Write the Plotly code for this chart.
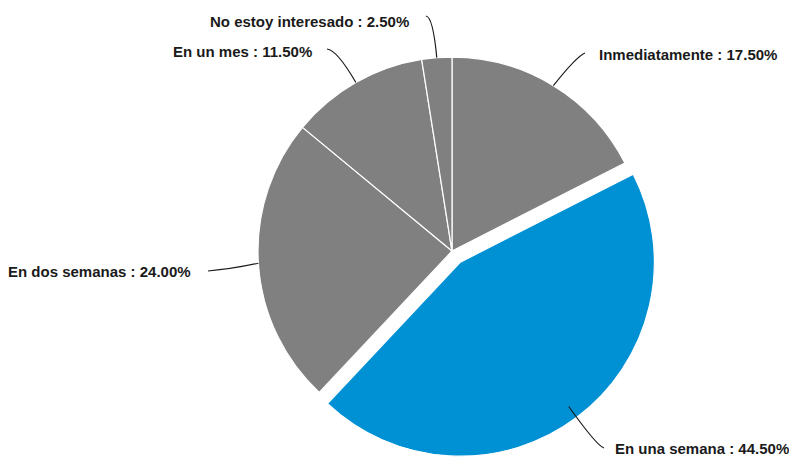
import math
import plotly.graph_objects as go

# Response shares (percent), listed clockwise from 12 o'clock
categories = ["Inmediatamente", "En una semana", "En dos semanas", "En un mes", "No estoy interesado"]
percentages = [17.5, 44.5, 24.0, 11.5, 2.5]
slice_colors = ["#808080", "#0090d4", "#808080", "#808080", "#808080"]
pulls = [0, 0.072, 0, 0, 0]

W, H = 789, 459

# Pie placement in pixels (margins are zero, so paper coords == figure fraction)
CX = 452
R_PIX = 194
max_pull = max(pulls)
half = R_PIX * (1 + max_pull)
CY = H - half
dom_y = [0, 2 * half / H]
dom_x = [(CX - half - 8) / W, (CX + half + 8) / W]

# Label layout per slice: radial start factor, bend point, end point, text anchor
label_layout = [
    dict(start=1.0, ctrl=(577, 56), end=(585, 53), text=(597, 55), side="left"),
    dict(start=0.93, ctrl=(597, 446), end=(604, 448), text=(613, 448), side="left"),
    dict(start=1.0, ctrl=(232, 269), end=(208, 271), text=(193, 271), side="right"),
    dict(start=1.0, ctrl=(337, 50), end=(327, 49), text=(314, 52), side="right"),
    dict(start=1.0, ctrl=(433, 17), end=(426, 16), text=(411, 22), side="right"),
]


def px(x):
    return x / W


def py(y):
    return 1 - y / H


fig = go.Figure(
    go.Pie(
        labels=categories,
        values=percentages,
        sort=False,
        direction="clockwise",
        rotation=0,
        pull=pulls,
        marker=dict(colors=slice_colors, line=dict(color="white", width=1.2)),
        textinfo="none",
        hoverinfo="label+percent",
        showlegend=False,
        domain=dict(x=dom_x, y=dom_y),
    )
)

total = sum(percentages)
cum = 0.0
shapes = []
annotations = []
for name, val, pull, lay in zip(categories, percentages, pulls, label_layout):
    theta = 2 * math.pi * (cum + val / 2) / total
    cum += val
    sx, sy = math.sin(theta), -math.cos(theta)
    ox = CX + pull * R_PIX * sx
    oy = CY + pull * R_PIX * sy
    x0 = ox + lay["start"] * R_PIX * sx
    y0 = oy + lay["start"] * R_PIX * sy
    cx, cy = lay["ctrl"]
    ex, ey = lay["end"]
    shapes.append(dict(
        type="path", xref="paper", yref="paper",
        path=f"M {px(x0)},{py(y0)} Q {px(cx)},{py(cy)} {px(ex)},{py(ey)}",
        line=dict(color="#1a1a1a", width=1.2),
    ))
    tx, ty = lay["text"]
    annotations.append(dict(
        x=px(tx), y=py(ty), xref="paper", yref="paper",
        xanchor=lay["side"], yanchor="middle", showarrow=False,
        text=f"<b>{name} : {val:.2f}%</b>",
        font=dict(family="Liberation Sans, Arial, sans-serif", size=15, color="#1a1a1a"),
    ))

fig.update_layout(
    width=W, height=H,
    margin=dict(l=0, r=0, t=0, b=0),
    paper_bgcolor="white",
    plot_bgcolor="white",
    shapes=shapes,
    annotations=annotations,
)

fig.write_html("out.html")
